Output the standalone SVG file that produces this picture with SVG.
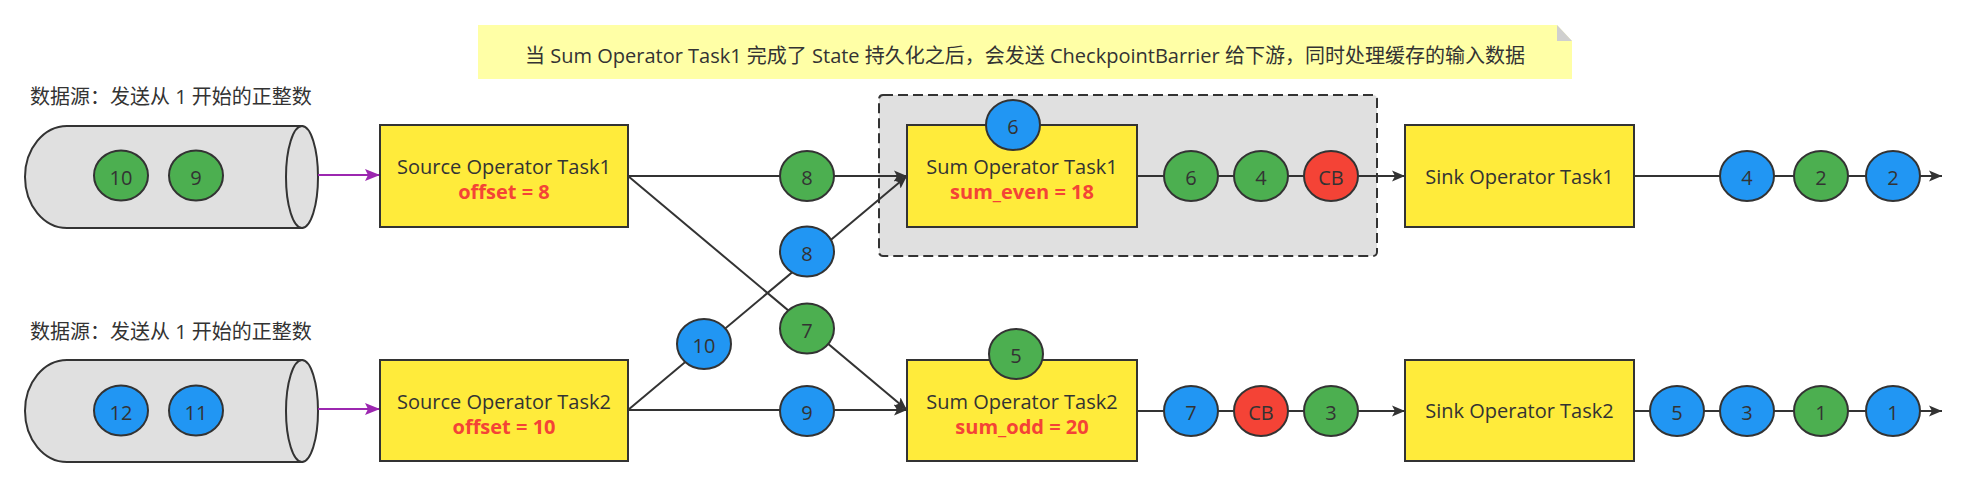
<svg xmlns="http://www.w3.org/2000/svg" width="1963" height="487" viewBox="0 0 1963 487">
<style>
.box{fill:#FFEB3B;stroke:#333;stroke-width:2}
.cyl{fill:#E0E0E0;stroke:#333;stroke-width:2}
.dot{stroke:#333;stroke-width:2}
.g{fill:#4CAF50}.b{fill:#2196F3}.r{fill:#F44336}
.t{font-family:"Open Sans","Noto Sans CJK SC",sans-serif;font-size:20px;fill:#333;text-anchor:middle}
.lbl{font-family:"Open Sans","Noto Sans CJK SC",sans-serif;font-size:20px;fill:#333}
.red{fill:#F44336;font-weight:bold}
.conn{stroke:#333;stroke-width:2;fill:none}
.pconn{stroke:#9C27B0;stroke-width:2;fill:none}
</style>
<defs>
<marker id="arr" markerUnits="userSpaceOnUse" markerWidth="14" markerHeight="12" refX="13" refY="6" orient="auto"><path d="M0,0.5 L13,6 L0,11.5 L3,6 Z" fill="#333"/></marker>
<marker id="parr" markerUnits="userSpaceOnUse" markerWidth="16" markerHeight="14" refX="15" refY="7" orient="auto"><path d="M0,1 L15,7 L0,13 L3,7 Z" fill="#9C27B0"/></marker>
</defs>
<rect x="0" y="0" width="1963" height="487" fill="#fff"/>

<g id="note">
<path d="M478,25 H1557 L1572,41 V79 H478 Z" fill="#FFFFA6"/>
<path d="M1557,25 V41 H1572 Z" fill="#CFCFCF"/>
<text class="t" x="1025" y="63">当 Sum Operator Task1 完成了 State 持久化之后，会发送 CheckpointBarrier 给下游，同时处理缓存的输入数据</text>
</g>

<g id="group-dashed">
<rect x="879" y="95" width="498" height="161" rx="4" fill="#E0E0E0" stroke="#333" stroke-width="2" stroke-dasharray="10 5"/>
</g>

<g id="label-src1"><text class="lbl" x="30" y="104">数据源：发送从 1 开始的正整数</text></g>
<g id="label-src2"><text class="lbl" x="30" y="339">数据源：发送从 1 开始的正整数</text></g>

<g id="source1-cylinder">
<path class="cyl" d="M302,126 H67 A42,51 0 0 0 67,228 H302 Z"/>
<ellipse class="cyl" cx="302" cy="177" rx="16" ry="51"/>
<ellipse class="dot g" cx="121" cy="175.5" rx="27" ry="25"/><text class="t" x="121" y="184.5">10</text>
<ellipse class="dot g" cx="196" cy="175.5" rx="27" ry="25"/><text class="t" x="196" y="184.5">9</text>
</g>
<g id="source2-cylinder">
<path class="cyl" d="M302,360 H67 A42,51 0 0 0 67,462 H302 Z"/>
<ellipse class="cyl" cx="302" cy="411" rx="16" ry="51"/>
<ellipse class="dot b" cx="121" cy="410.5" rx="27" ry="25"/><text class="t" x="121" y="419.5">12</text>
<ellipse class="dot b" cx="196" cy="410.5" rx="27" ry="25"/><text class="t" x="196" y="419.5">11</text>
</g>

<g id="connectors">
<line class="pconn" x1="318" y1="175" x2="380" y2="175" marker-end="url(#parr)"/>
<line class="pconn" x1="318" y1="409" x2="380" y2="409" marker-end="url(#parr)"/>
<line class="conn" x1="628" y1="176" x2="907" y2="176" marker-end="url(#arr)"/>
<line class="conn" x1="628" y1="176" x2="907" y2="410" marker-end="url(#arr)"/>
<line class="conn" x1="628" y1="410" x2="907" y2="176" marker-end="url(#arr)"/>
<line class="conn" x1="628" y1="410" x2="907" y2="410" marker-end="url(#arr)"/>
<line class="conn" x1="1137" y1="176" x2="1405" y2="176" marker-end="url(#arr)"/>
<line class="conn" x1="1137" y1="411" x2="1405" y2="411" marker-end="url(#arr)"/>
<line class="conn" x1="1634" y1="176" x2="1942" y2="176" marker-end="url(#arr)"/>
<line class="conn" x1="1634" y1="411" x2="1942" y2="411" marker-end="url(#arr)"/>
</g>

<g id="source1"><rect class="box" x="380" y="125" width="248" height="102"/>
<text class="t" x="504" y="174">Source Operator Task1</text><text class="t red" x="504" y="199">offset = 8</text></g>
<g id="source2"><rect class="box" x="380" y="360" width="248" height="101"/>
<text class="t" x="504" y="409">Source Operator Task2</text><text class="t red" x="504" y="434">offset = 10</text></g>
<g id="sum1"><rect class="box" x="907" y="125" width="230" height="102"/>
<text class="t" x="1022" y="174">Sum Operator Task1</text><text class="t red" x="1022" y="199">sum_even = 18</text></g>
<g id="sum2"><rect class="box" x="907" y="360" width="230" height="101"/>
<text class="t" x="1022" y="409">Sum Operator Task2</text><text class="t red" x="1022" y="434">sum_odd = 20</text></g>
<g id="sink1"><rect class="box" x="1405" y="125" width="229" height="102"/>
<text class="t" x="1519.5" y="184">Sink Operator Task1</text></g>
<g id="sink2"><rect class="box" x="1405" y="360" width="229" height="101"/>
<text class="t" x="1519.5" y="418">Sink Operator Task2</text></g>

<g id="state-sum1"><ellipse class="dot b" cx="1013" cy="125" rx="27" ry="25"/><text class="t" x="1013" y="134">6</text></g>
<g id="state-sum2"><ellipse class="dot g" cx="1016" cy="354" rx="27" ry="25"/><text class="t" x="1016" y="363">5</text></g>

<g id="rec-s1-sum1"><ellipse class="dot g" cx="807" cy="176" rx="27" ry="25"/><text class="t" x="807" y="185">8</text></g>
<g id="rec-s2-sum1-8"><ellipse class="dot b" cx="807" cy="251.5" rx="27" ry="25"/><text class="t" x="807" y="260.5">8</text></g>
<g id="rec-s2-sum1-10"><ellipse class="dot b" cx="704" cy="344" rx="27" ry="25"/><text class="t" x="704" y="353">10</text></g>
<g id="rec-s1-sum2"><ellipse class="dot g" cx="807" cy="328.5" rx="27" ry="25"/><text class="t" x="807" y="337.5">7</text></g>
<g id="rec-s2-sum2"><ellipse class="dot b" cx="807" cy="411" rx="27" ry="25"/><text class="t" x="807" y="420">9</text></g>

<g id="rec-sum1-sink1">
<ellipse class="dot g" cx="1191" cy="176" rx="27" ry="25"/><text class="t" x="1191" y="185">6</text>
<ellipse class="dot g" cx="1261" cy="176" rx="27" ry="25"/><text class="t" x="1261" y="185">4</text>
<ellipse class="dot r" cx="1331" cy="176" rx="27" ry="25"/><text class="t" x="1331" y="185">CB</text>
</g>
<g id="rec-sum2-sink2">
<ellipse class="dot b" cx="1191" cy="411" rx="27" ry="25"/><text class="t" x="1191" y="420">7</text>
<ellipse class="dot r" cx="1261" cy="411" rx="27" ry="25"/><text class="t" x="1261" y="420">CB</text>
<ellipse class="dot g" cx="1331" cy="411" rx="27" ry="25"/><text class="t" x="1331" y="420">3</text>
</g>
<g id="out-sink1">
<ellipse class="dot b" cx="1747" cy="176" rx="27" ry="25"/><text class="t" x="1747" y="185">4</text>
<ellipse class="dot g" cx="1821" cy="176" rx="27" ry="25"/><text class="t" x="1821" y="185">2</text>
<ellipse class="dot b" cx="1893" cy="176" rx="27" ry="25"/><text class="t" x="1893" y="185">2</text>
</g>
<g id="out-sink2">
<ellipse class="dot b" cx="1677" cy="411" rx="27" ry="25"/><text class="t" x="1677" y="420">5</text>
<ellipse class="dot b" cx="1747" cy="411" rx="27" ry="25"/><text class="t" x="1747" y="420">3</text>
<ellipse class="dot g" cx="1821" cy="411" rx="27" ry="25"/><text class="t" x="1821" y="420">1</text>
<ellipse class="dot b" cx="1893" cy="411" rx="27" ry="25"/><text class="t" x="1893" y="420">1</text>
</g>
</svg>
